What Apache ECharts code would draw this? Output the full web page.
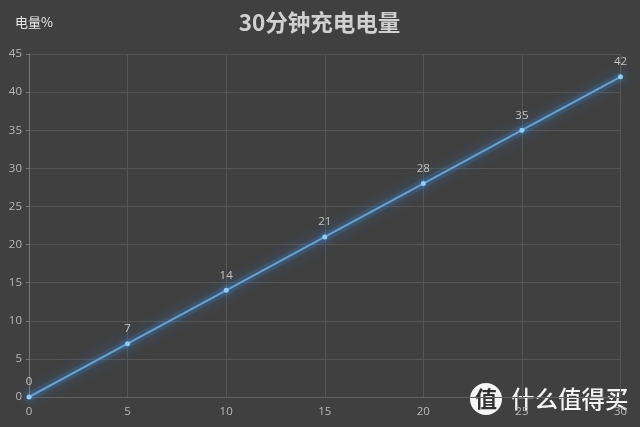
<!DOCTYPE html>
<html>
<head>
<meta charset="utf-8">
<style>
  html, body {margin: 0; padding: 0; background: #404040;}
  #main {width: 640px; height: 427px;}
</style>
</head>
<body>
<div id="main"></div>
<script src="https://cdn.jsdelivr.net/npm/echarts@6/dist/echarts.min.js"></script>
<script>
var minutes = [0, 5, 10, 15, 20, 25, 30];
var charge = [0, 7, 14, 21, 28, 35, 42];
var titleText = '30分钟充电电量';
var yName = '电量%';
var markText = '什么值得买';
var markBadge = '值';

var points = minutes.map(function (m, i) { return [m, charge[i]]; });
var font = '"Noto Sans CJK SC", "Liberation Sans", sans-serif';
var labelFont = '"Open Sans", "Noto Sans", sans-serif';

var chart = echarts.init(document.getElementById('main'));
chart.setOption({
	animation: false,
	backgroundColor: '#404040',
	title: {
		text: titleText,
		left: 314.5,
		textAlign: 'center',
		top: 6,
		textStyle: {color: '#d0d0d0', fontSize: 22.5, fontWeight: 'bold', fontFamily: font}
	},
	grid: {left: 29, right: 19.5, top: 54, bottom: 30},
	xAxis: {
		type: 'value',
		min: 0,
		max: 30,
		interval: 5,
		axisLine: {show: true, onZero: false, lineStyle: {color: '#626262'}},
		axisTick: {show: false},
		axisLabel: {color: '#b8b8b8', fontSize: 11.5, margin: 9, fontFamily: labelFont},
		splitLine: {show: true, lineStyle: {color: '#565656', width: 1}}
	},
	yAxis: {
		type: 'value',
		min: 0,
		max: 45,
		interval: 5,
		axisLine: {show: true, lineStyle: {color: '#767676'}},
		axisTick: {show: true, length: 3, lineStyle: {color: '#767676'}},
		axisLabel: {color: '#b8b8b8', fontSize: 11.5, margin: 7, fontFamily: labelFont},
		splitLine: {show: true, lineStyle: {color: '#565656', width: 1}}
	},
	series: [{
		// glow under the line
		type: 'line',
		data: points,
		symbol: 'none',
		silent: true,
		clip: false,
		z: 1,
		lineStyle: {color: 'rgba(60,130,210,0.22)', width: 9, shadowColor: '#2f86e6', shadowBlur: 14}
	}, {
		type: 'line',
		data: points,
		symbol: 'circle',
		symbolSize: 5,
		clip: false,
		z: 2,
		lineStyle: {color: '#6ea0cc', width: 2},
		itemStyle: {color: '#92ccf4', shadowColor: '#3f8fe0', shadowBlur: 8},
		label: {show: true, position: 'top', distance: 6.5, color: '#c4c4c4', fontSize: 11.5, fontFamily: labelFont}
	}],
	graphic: [
		{type: 'text', left: 15, top: 16, style: {text: yName, fill: '#e8e8e8', font: '13px ' + font}},
		{type: 'circle', shape: {cx: 486, cy: 399, r: 16}, style: {fill: '#f6f6f6'}},
		{type: 'text', x: 486, y: 399, style: {text: markBadge, fill: '#303030', font: 'bold 22px ' + font, align: 'center', verticalAlign: 'middle'}},
		{type: 'text', x: 511, y: 399, style: {text: markText, fill: '#f4f4f4', font: '500 23.5px ' + font, verticalAlign: 'middle'}}
	]
});
</script>
</body>
</html>
